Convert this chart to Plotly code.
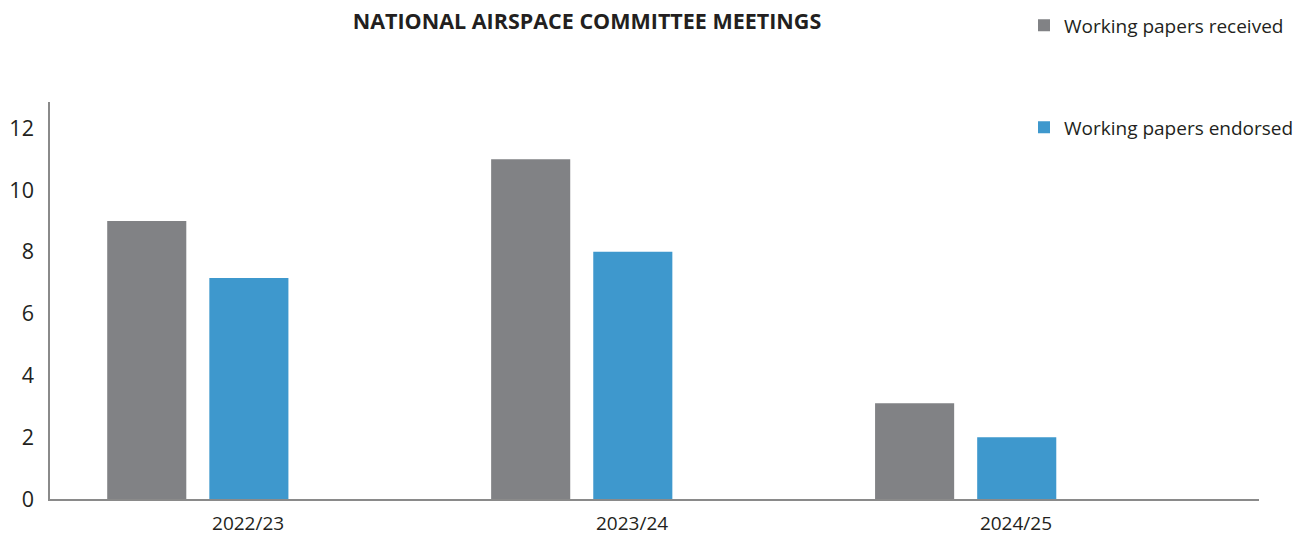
import plotly.graph_objects as go

# Data
years = ["2022/23", "2023/24", "2024/25"]
papers_received = [9, 11, 3.1]
papers_endorsed = [7.15, 8, 2]
y_ticks = [0, 2, 4, 6, 8, 10, 12]

GREY = "#818285"
BLUE = "#3e98cd"
AXIS = "#8a8a8a"
FONT = "Open Sans"

W, H = 1305, 535
ML, MR, MT, MB = 50, 46, 102, 36
plot_w = W - ML - MR
plot_h = H - MT - MB

fig = go.Figure()

# Bars sit left of each category tick (the label lines up with the blue bar)
fig.add_trace(go.Bar(
    x=years, y=papers_received, name="Working papers received",
    marker=dict(color=GREY, line=dict(width=0)),
    width=0.206, offset=-0.367, legend="legend",
))
fig.add_trace(go.Bar(
    x=years, y=papers_endorsed, name="Working papers endorsed",
    marker=dict(color=BLUE, line=dict(width=0)),
    width=0.206, offset=-0.101, legend="legend2",
))

def legend_box(px_left, py_center):
    return dict(
        x=(px_left - ML) / plot_w, xanchor="left",
        y=(H - MB - py_center) / plot_h, yanchor="middle",
        font=dict(family=FONT, size=19, color="#231f20"),
        bgcolor="rgba(0,0,0,0)", borderwidth=0,
        itemclick=False, itemdoubleclick=False,
    )

fig.update_layout(
    width=W, height=H,
    margin=dict(l=ML, r=MR, t=MT, b=MB, autoexpand=False),
    paper_bgcolor="white", plot_bgcolor="white",
    title=dict(
        text="<b>NATIONAL AIRSPACE COMMITTEE MEETINGS</b>",
        x=587 / W, xanchor="center", xref="container",
        y=1 - 21 / H, yanchor="middle", yref="container",
        font=dict(family=FONT, size=21.5, color="#231f20"),
    ),
    showlegend=True,
    legend=legend_box(1024, 25.5),
    legend2=legend_box(1024, 127.5),
    xaxis=dict(
        type="category", range=[-0.516, 2.633],
        showline=True, linecolor=AXIS, linewidth=2,
        showgrid=False, zeroline=False, ticks="",
        tickfont=dict(family=FONT, size=19, color="#231f20"),
        ticklabelstandoff=6,
    ),
    yaxis=dict(
        range=[0, 12.85], tickvals=y_ticks,
        showline=True, linecolor=AXIS, linewidth=1.5,
        showgrid=False, zeroline=False, ticks="",
        tickfont=dict(family=FONT, size=21.5, color="#231f20"),
        ticklabelstandoff=10,
    ),
)

fig.write_html("out.html")
